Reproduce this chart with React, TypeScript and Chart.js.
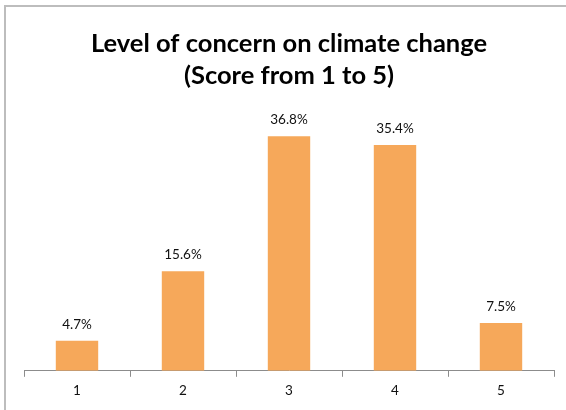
import React, { useEffect, useRef } from "react";
import { Chart, registerables } from "chart.js";

Chart.register(...registerables);

const categories = ["1", "2", "3", "4", "5"];
const shares = [4.7, 15.6, 36.8, 35.4, 7.5];
const titleLines = ["Level of concern on climate change", "(Score from 1 to 5)"];

const FONT = "Lato, 'Open Sans', sans-serif";

const valueLabels = {
  id: "valueLabels",
  afterDatasetsDraw(chart: any) {
    const ctx = chart.ctx;
    const meta = chart.getDatasetMeta(0);
    ctx.save();
    ctx.font = `13.5px ${FONT}`;
    ctx.fillStyle = "#111";
    ctx.textAlign = "center";
    ctx.textBaseline = "alphabetic";
    meta.data.forEach((bar: any, i: number) => {
      ctx.fillText(shares[i].toFixed(1) + "%", bar.x, bar.y - 12);
    });
    ctx.restore();
  },
};

export default function App() {
  const ref = useRef<HTMLCanvasElement>(null);
  useEffect(() => {
    if (!ref.current) return;
    const chart = new Chart(ref.current, {
      type: "bar",
      data: {
        labels: categories,
        datasets: [
          {
            data: shares,
            backgroundColor: "#F6A85A",
            borderWidth: 0,
            categoryPercentage: 1,
            barPercentage: 0.4,
          },
        ],
      },
      options: {
        animation: false,
        responsive: false,
        maintainAspectRatio: false,
        layout: { padding: { left: 18, right: 12, top: 13, bottom: 5 } },
        plugins: {
          legend: { display: false },
          tooltip: { enabled: false },
          title: {
            display: true,
            text: titleLines,
            color: "#000",
            font: { family: FONT, size: 25.5, weight: "bold", lineHeight: 1.25 },
            padding: { top: 8, bottom: 24 },
          },
        },
        scales: {
          x: {
            grid: {
              display: true,
              drawOnChartArea: false,
              drawTicks: true,
              tickLength: 6,
              color: "#8c8c8c",
            },
            border: { display: true, color: "#8c8c8c", width: 1 },
            ticks: { color: "#111", font: { family: FONT, size: 13.5 }, padding: 6 },
          },
          y: { display: false, min: 0, max: 40 },
        },
      },
      plugins: [valueLabels],
    });
    return () => chart.destroy();
  }, []);

  return (
    <div
      style={{
        position: "fixed",
        left: 4,
        top: 5,
        width: 562,
        height: 405,
        borderLeft: "2px solid #bdbdbd",
        borderTop: "2px solid #bdbdbd",
        background: "#fff",
      }}
    >
      <canvas ref={ref} width={560} height={403} style={{ display: "block" }} />
    </div>
  );
}
